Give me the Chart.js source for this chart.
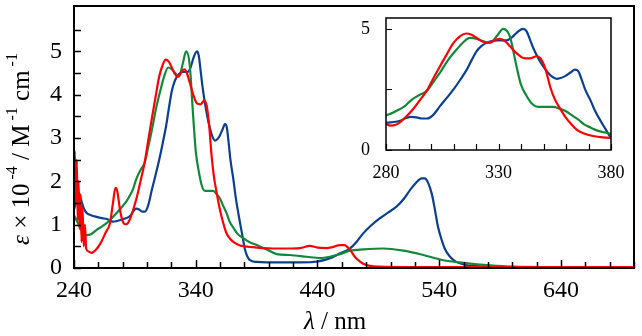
<!DOCTYPE html>
<html>
<head>
<meta charset="utf-8">
<script src="https://cdn.jsdelivr.net/npm/chart.js@4/dist/chart.umd.min.js"></script>
<style>
  html,body{margin:0;padding:0;background:#fff;}
  #wrap{position:relative;width:642px;height:336px;}
  #main{position:absolute;left:0;top:0;}
  #inset{position:absolute;left:340px;top:0;}
</style>
</head>
<body>
<div id="wrap">
<canvas id="main" width="642" height="336"></canvas>
<canvas id="inset" width="302" height="192"></canvas>
</div>
<script>
// ---- Data (wavelength in nm, epsilon x 10^-4 in M^-1 cm^-1) ----
const redNm = [240,240.7,241.5,242.3,243,243.8,244.6,245.4,246.2,247,248,249,250,252,254.5,258,262,266,269.6,272,274,275.5,277.8,280,282,284,286,289,292,295,298,301,304,307,310,313,315.6,318,320.3,322.5,324.7,327,329,330.7,333,335,338,341,344,347,349,351,353,355,357.3,360,362.6,365,368,372,376.4,380,387,395,403.7,415,425.6,433.9,440,447.6,452,458.5,462,466.7,471,475,479,483,490,520,560,600,700];
const redEps = [2.0,2.7,1.5,2.5,1.1,2.0,0.9,1.7,0.6,1.4,0.5,1.0,0.45,0.38,0.35,0.42,0.58,0.82,1.04,1.5,1.85,1.78,1.34,1.08,1.01,1.03,1.13,1.38,1.68,2.05,2.43,2.95,3.46,3.95,4.42,4.7,4.81,4.76,4.63,4.5,4.42,4.47,4.56,4.59,4.48,4.29,4.0,3.8,3.78,3.87,3.74,3.3,2.6,2.1,1.72,1.33,1.04,0.82,0.68,0.58,0.52,0.5,0.48,0.46,0.45,0.45,0.46,0.51,0.47,0.46,0.48,0.53,0.53,0.42,0.25,0.15,0.08,0.05,0.03,0.02,0.02,0.02,0.02];

const greenNm = [240,243,246,248,250.4,254,258.6,263,267,271,275,280,283.3,286,288.5,290.5,292.6,295,298,301,304,307.5,311.4,314,317.3,320,323,326.2,329.2,332.1,335,338,340,342.5,345,347.6,351,354.4,357.3,360,362,365.4,368,370.9,374,379,384,390,398.3,406.5,417.4,431,442,450.3,458.5,466.7,477.6,494,510.5,527,543.4,559.8,581.7,600,640,700];
const greenEps = [1.22,1.05,0.88,0.8,0.76,0.78,0.88,0.96,1.04,1.15,1.27,1.43,1.55,1.68,1.82,2.0,2.15,2.28,2.43,2.8,3.19,3.7,4.15,4.42,4.63,4.6,4.5,4.42,4.7,5.0,4.7,3.46,2.7,2.23,1.9,1.78,1.78,1.78,1.7,1.6,1.47,1.26,1.06,0.93,0.8,0.69,0.6,0.53,0.43,0.32,0.3,0.26,0.23,0.26,0.32,0.4,0.43,0.45,0.4,0.3,0.18,0.12,0.06,0.03,0.02,0.02];

const blueNm = [240,241.5,243.5,245,246.3,248,250.4,254,258.6,263,267,272,276,280.5,286,289,291,293.5,296,298.3,301,304,307,310,313,315.9,318,320.3,322.5,324.7,327,329.2,331.5,333.6,336,338,341,342.5,344,345.5,347.6,349.5,351.4,353.5,355.9,357.2,359.6,362,364,365.5,367,368.5,370.9,373,376.4,378.5,380.5,382.5,384.6,390,398.3,410,425.6,440,447.6,452,458.5,466.7,472,477.6,484,491.4,498,505,511,516,521,525.6,528,531,534,536.5,539,542,545,548.9,553,557,562,568,580,620,700];
const blueEps = [1.35,1.5,1.76,1.65,1.53,1.38,1.27,1.22,1.18,1.15,1.13,1.07,1.09,1.13,1.2,1.32,1.37,1.35,1.3,1.3,1.45,1.81,2.15,2.5,2.9,3.32,3.7,4.08,4.3,4.42,4.5,4.53,4.53,4.53,4.65,4.84,5.0,4.9,4.56,4.2,3.8,3.5,3.26,3.05,2.94,2.96,3.05,3.2,3.32,3.25,2.9,2.5,2.05,1.6,1.04,0.72,0.42,0.26,0.18,0.14,0.13,0.13,0.13,0.15,0.2,0.24,0.34,0.45,0.6,0.8,0.98,1.15,1.28,1.42,1.6,1.8,1.97,2.07,2.07,1.96,1.7,1.34,0.95,0.65,0.42,0.26,0.16,0.11,0.07,0.05,0.03,0.02,0.02];

const mainXLabels = [240,340,440,540,640];
const mainYLabels = [0,1,2,3,4,5];
const insetXLabels = [280,330,380];
const insetYLabels = [0,5];

const RED = '#ff0000', GREEN = '#12893a', BLUE = '#0b3f8f';
const SERIF = '"Liberation Serif", "Times New Roman", serif';

function pts(xs, ys){ return xs.map((x,i)=>({x:x, y:ys[i]})); }
function datasets(w){
  return [
    {data:pts(redNm, redEps), borderColor:RED, borderWidth:w},
    {data:pts(greenNm, greenEps), borderColor:GREEN, borderWidth:w},
    {data:pts(blueNm, blueEps), borderColor:BLUE, borderWidth:w}
  ].map(d=>Object.assign(d,{pointRadius:0, fill:false, cubicInterpolationMode:'monotone'}));
}

// Frame + inward ticks plugin
const frameTicks = {
  id:'frameTicks',
  afterDraw(chart, args, o){
    const {ctx, chartArea:a, scales:{x,y}} = chart;
    ctx.save();
    ctx.strokeStyle = '#000';
    ctx.lineWidth = o.tickWidth;
    ctx.beginPath();
    for (let v=o.xStart; v<=o.xEnd+1e-9; v+=o.xStep){
      const px = Math.round(x.getPixelForValue(v))+0.5;
      const major = Math.abs((v-o.xMajorStart)/o.xMajor - Math.round((v-o.xMajorStart)/o.xMajor))<1e-6;
      const len = major ? o.majorLen : o.minorLen;
      ctx.moveTo(px, a.bottom); ctx.lineTo(px, a.bottom-len);
    }
    for (let v=o.yStart; v<=o.yEnd+1e-9; v+=o.yStep){
      const py = Math.round(y.getPixelForValue(v))+0.5;
      ctx.moveTo(a.left, py); ctx.lineTo(a.left+o.yLen, py);
    }
    ctx.stroke();
    ctx.lineWidth = o.frameWidth;
    ctx.strokeRect(a.left, a.top, a.right-a.left, a.bottom-a.top);
    ctx.restore();
  }
};

function drawRich(ctx, segs, cx, cy, rot){
  ctx.save();
  ctx.translate(cx, cy);
  ctx.rotate(rot);
  ctx.textBaseline = 'middle';
  ctx.fillStyle = '#000';
  let total = 0;
  segs.forEach(s=>{ ctx.font = s.font; s.w = ctx.measureText(s.t).width; total += s.w; });
  let xx = -total/2;
  segs.forEach(s=>{ ctx.font = s.font; ctx.fillText(s.t, xx, s.dy||0); xx += s.w; });
  ctx.restore();
}

const titles = {
  id:'titles',
  afterDraw(chart){
    const ctx = chart.ctx;
    const F = '25px ' + SERIF, FI = 'italic 25px ' + SERIF, FS = '16px ' + SERIF;
    drawRich(ctx, [
      {t:'ε', font:FI},
      {t:' × 10', font:F},
      {t:' -4', font:FS, dy:-9},
      {t:' / M', font:F},
      {t:' -1', font:FS, dy:-9},
      {t:' cm', font:F},
      {t:' -1', font:FS, dy:-9}
    ], 22, 149, -Math.PI/2);
    drawRich(ctx, [
      {t:'λ', font:FI},
      {t:' / nm', font:F}
    ], 335, 322, 0);
  }
};

function fixPad(s){ s.paddingTop=0; s.paddingBottom=0; s.paddingLeft=0; s.paddingRight=0; }
function setTicks(arr){ return s=>{ s.ticks = arr.map(v=>({value:v})); }; }

new Chart(document.getElementById('main'), {
  type:'line',
  data:{datasets:datasets(2.2)},
  plugins:[frameTicks, titles],
  options:{
    responsive:false, animation:false, devicePixelRatio:1,
    layout:{padding:{left:0,right:8,top:6,bottom:0}},
    plugins:{legend:{display:false}, tooltip:{enabled:false},
      frameTicks:{tickWidth:1.5, frameWidth:2, xStart:240, xEnd:700, xStep:20, xMajorStart:240, xMajor:100, majorLen:8, minorLen:6, yStart:0, yEnd:5.5, yStep:0.5, yLen:7}
    },
    scales:{
      x:{type:'linear', min:240, max:700,
        afterBuildTicks:setTicks(mainXLabels),
        afterFit:s=>{s.height=68; fixPad(s);},
        grid:{display:false, drawTicks:false}, border:{display:false},
        ticks:{autoSkip:false, maxRotation:0, padding:8, color:'#000',
          font:{family:SERIF, size:24}}
      },
      y:{type:'linear', min:0, max:6.05,
        afterBuildTicks:setTicks(mainYLabels),
        afterFit:s=>{s.width=74; fixPad(s);},
        grid:{display:false, drawTicks:false}, border:{display:false},
        ticks:{autoSkip:false, padding:12, color:'#000',
          font:{family:SERIF, size:24}}
      }
    }
  }
});

new Chart(document.getElementById('inset'), {
  type:'line',
  data:{datasets:datasets(2.2)},
  plugins:[frameTicks],
  options:{
    responsive:false, animation:false, devicePixelRatio:1,
    layout:{padding:{left:0,right:31,top:18,bottom:0}},
    plugins:{legend:{display:false}, tooltip:{enabled:false},
      frameTicks:{tickWidth:1.2, frameWidth:1.5, xStart:280, xEnd:380, xStep:10, xMajorStart:280, xMajor:50, majorLen:6, minorLen:6, yStart:0, yEnd:5, yStep:2.5, yLen:6}
    },
    scales:{
      x:{type:'linear', min:280, max:380,
        afterBuildTicks:setTicks(insetXLabels),
        afterFit:s=>{s.height=42; fixPad(s);},
        grid:{display:false, drawTicks:false}, border:{display:false},
        ticks:{autoSkip:false, maxRotation:0, padding:12, color:'#000',
          font:{family:SERIF, size:18}}
      },
      y:{type:'linear', min:0, max:5.45,
        afterBuildTicks:setTicks(insetYLabels),
        afterFit:s=>{s.width=46; fixPad(s);},
        grid:{display:false, drawTicks:false}, border:{display:false},
        ticks:{autoSkip:false, padding:16, color:'#000',
          font:{family:SERIF, size:18}}
      }
    }
  }
});
</script>
</body>
</html>
